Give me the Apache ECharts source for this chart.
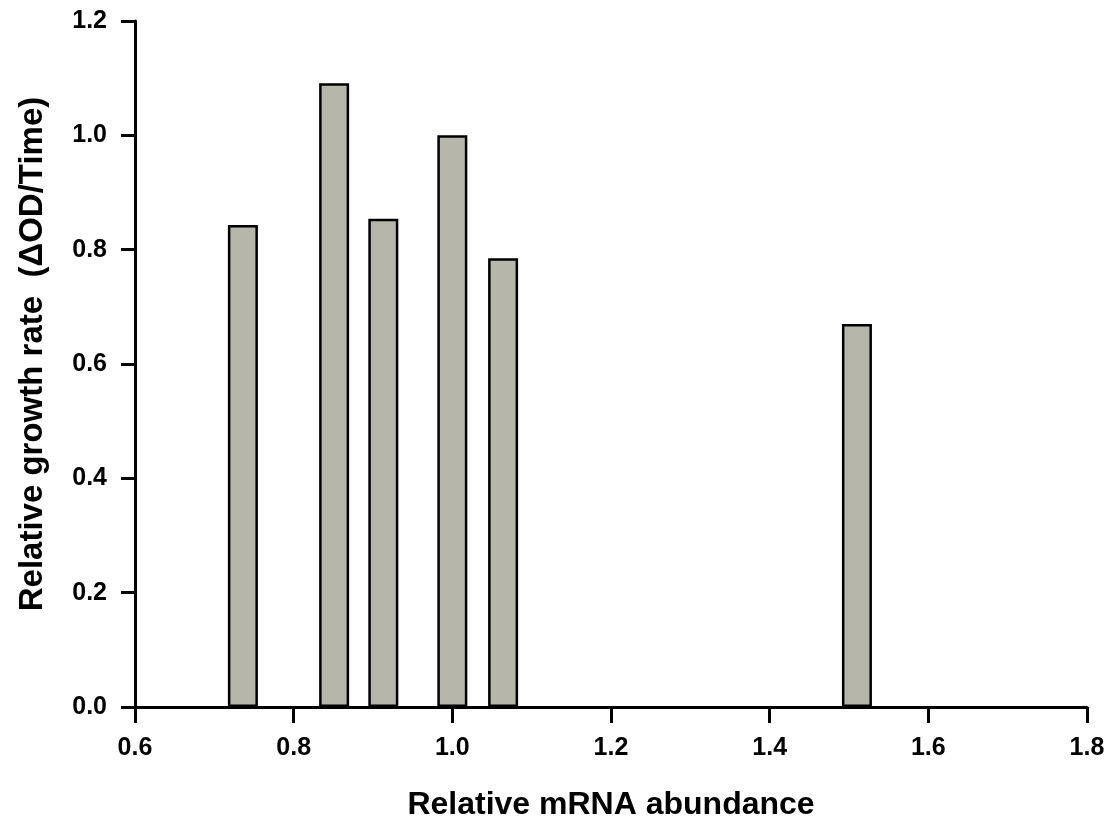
<!DOCTYPE html>
<html>
<head>
<meta charset="utf-8">
<script src="https://cdn.jsdelivr.net/npm/echarts@6/dist/echarts.min.js"></script>
<style>
html,body{margin:0;padding:0;background:#fff;}
#chart{width:1117px;height:828px;}
</style>
</head>
<body>
<div id="chart"></div>
<script>
// Data
const mrnaAbundance = [0.736, 0.851, 0.913, 1.000, 1.064, 1.510];
const growthRate    = [0.843, 1.091, 0.854, 1.000, 0.785, 0.670];
const xTicks = [0.6, 0.8, 1.0, 1.2, 1.4, 1.6, 1.8];
const yTicks = [0.0, 0.2, 0.4, 0.6, 0.8, 1.0, 1.2];
const xTitle = 'Relative mRNA abundance';
const yTitle = 'Relative growth rate  (\u0394OD/Time)';

const seriesData = mrnaAbundance.map((x, i) => [x, growthRate[i]]);
const FONT = '"Liberation Sans", Arial, sans-serif';

const chart = echarts.init(document.getElementById('chart'));
chart.setOption({
  animation: false,
  backgroundColor: '#ffffff',
  grid: { left: 135, right: 30, top: 21, bottom: 121, containLabel: false },
  xAxis: {
    type: 'value',
    min: xTicks[0], max: xTicks[xTicks.length - 1], interval: 0.2,
    splitLine: { show: false },
    axisLine: { show: true, onZero: false, lineStyle: { color: '#000', width: 3 } },
    axisTick: { show: true, length: 16, lineStyle: { color: '#000', width: 3 } },
    axisLabel: {
      margin: 29, color: '#000', fontFamily: FONT, fontWeight: 'bold', fontSize: 25,
      formatter: v => v.toFixed(1)
    },
    name: xTitle, nameLocation: 'middle', nameGap: 82,
    nameTextStyle: { color: '#000', fontFamily: FONT, fontWeight: 'bold', fontSize: 32 }
  },
  yAxis: {
    type: 'value',
    min: yTicks[0], max: yTicks[yTicks.length - 1], interval: 0.2,
    splitLine: { show: false },
    axisLine: { show: true, lineStyle: { color: '#000', width: 3 } },
    axisTick: { show: true, length: 14, lineStyle: { color: '#000', width: 3 } },
    axisLabel: {
      margin: 28, color: '#000', fontFamily: FONT, fontWeight: 'bold', fontSize: 25,
      formatter: v => v.toFixed(1)
    }
  },
  graphic: [{
    type: 'text',
    x: 33, y: 354,
    rotation: Math.PI / 2,
    style: {
      text: yTitle, fill: '#000',
      font: 'bold 33px ' + FONT,
      align: 'center', verticalAlign: 'middle'
    }
  }],
  series: [{
    type: 'bar',
    data: seriesData,
    barWidth: 30,
    itemStyle: { color: '#b6b6aa', borderColor: '#000', borderWidth: 2.5 }
  }]
});
</script>
</body>
</html>
